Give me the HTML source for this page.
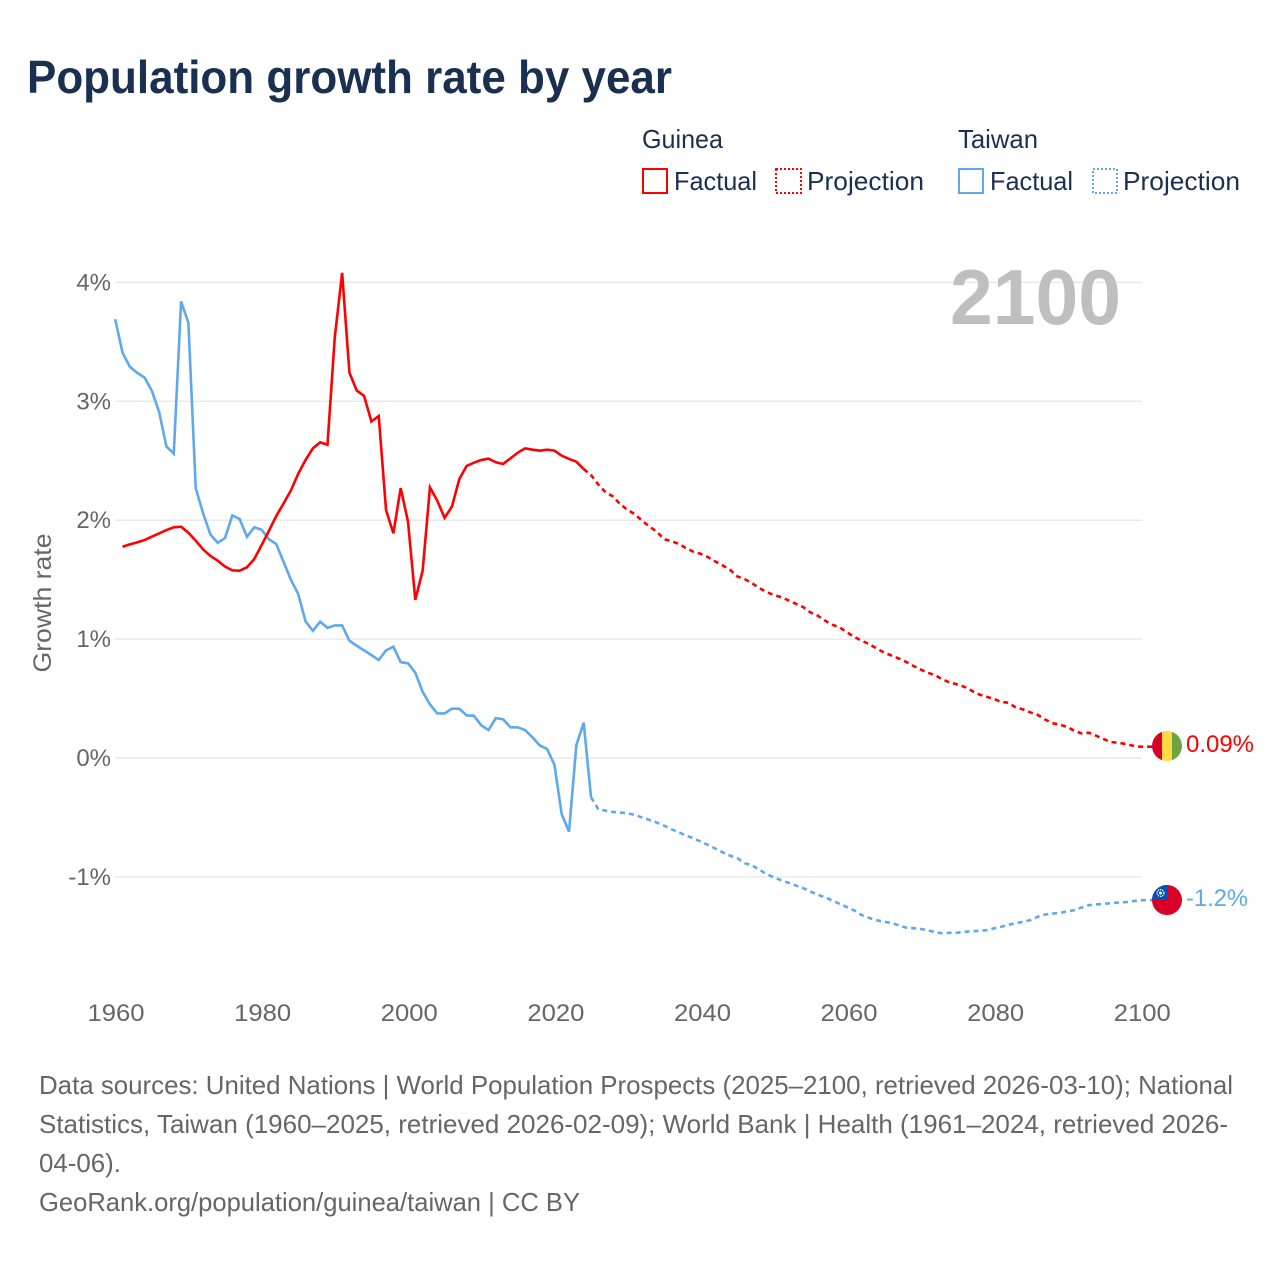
<!DOCTYPE html>
<html lang="en">
<head>
<meta charset="utf-8">
<title>Population growth rate by year</title>
<style>
html,body{margin:0;padding:0;background:#fff;}
svg{display:block;}
text{font-family:"Liberation Sans",sans-serif;}
</style>
</head>
<body>
<svg id="chart" xmlns="http://www.w3.org/2000/svg" width="1280" height="1280" viewBox="0 0 1280 1280">
  <defs>
    <clipPath id="clip-guinea"><circle cx="1167" cy="746" r="15"/></clipPath>
    <clipPath id="clip-taiwan"><circle cx="1167" cy="900" r="15"/></clipPath>
  </defs>
  <rect width="1280" height="1280" fill="#fff"/>
  <text x="27" y="93" font-size="46" font-weight="700" fill="#1a3050" textLength="645" lengthAdjust="spacingAndGlyphs">Population growth rate by year</text>

  <g font-size="26" fill="#1a3050">
    <text x="642" y="148" textLength="81" lengthAdjust="spacingAndGlyphs">Guinea</text>
    <text x="958" y="148" textLength="80" lengthAdjust="spacingAndGlyphs">Taiwan</text>
    <rect x="643" y="169" width="24" height="24" fill="none" stroke="#ff0000" stroke-width="2"/>
    <text x="674" y="190" textLength="83" lengthAdjust="spacingAndGlyphs">Factual</text>
    <rect x="776" y="169" width="25" height="24" fill="none" stroke="#ff0000" stroke-width="2" stroke-dasharray="2 2"/>
    <text x="807" y="190" textLength="117" lengthAdjust="spacingAndGlyphs">Projection</text>
    <rect x="959" y="169" width="24" height="24" fill="none" stroke="#5fa8ee" stroke-width="2"/>
    <text x="990" y="190" textLength="83" lengthAdjust="spacingAndGlyphs">Factual</text>
    <rect x="1093" y="169" width="24" height="24" fill="none" stroke="#5fa8ee" stroke-width="2" stroke-dasharray="2 2"/>
    <text x="1123" y="190" textLength="117" lengthAdjust="spacingAndGlyphs">Projection</text>
  </g>

  <g id="grid"></g>
  <g id="y-ticks"></g>
  <g id="x-ticks"></g>
  <text transform="translate(51,603) rotate(-90)" text-anchor="middle" font-size="25" fill="#666" textLength="139" lengthAdjust="spacingAndGlyphs">Growth rate</text>
  <text x="1121" y="324" text-anchor="end" font-size="78" font-weight="700" fill="#bfbfbf" textLength="171" lengthAdjust="spacingAndGlyphs">2100</text>
  <g id="series"></g>

  <g clip-path="url(#clip-guinea)">
    <rect x="1152" y="731" width="10" height="30" fill="#d80027"/>
    <rect x="1162" y="731" width="10" height="30" fill="#ffda44"/>
    <rect x="1172" y="731" width="10" height="30" fill="#6da544"/>
  </g>
  <g clip-path="url(#clip-taiwan)">
    <rect x="1152" y="885" width="30" height="30" fill="#d80027"/>
    <rect x="1152" y="885" width="15" height="15" fill="#0052b4"/>
    <circle cx="1160.5" cy="893" r="3.4" fill="none" stroke="#fff" stroke-width="1.2" stroke-dasharray="1.4 0.8"/>
    <circle cx="1160.5" cy="893" r="1.5" fill="#fff"/>
  </g>
  <text id="label-guinea" x="1186" y="752" font-size="24" fill="#ff0000" textLength="68" lengthAdjust="spacingAndGlyphs"></text>
  <text id="label-taiwan" x="1186" y="906" font-size="24" fill="#5fa8ee" textLength="62" lengthAdjust="spacingAndGlyphs"></text>

  <g font-size="26" fill="#666">
    <text x="39" y="1094" textLength="1194" lengthAdjust="spacingAndGlyphs">Data sources: United Nations | World Population Prospects (2025–2100, retrieved 2026-03-10); National</text>
    <text x="39" y="1133" textLength="1189" lengthAdjust="spacingAndGlyphs">Statistics, Taiwan (1960–2025, retrieved 2026-02-09); World Bank | Health (1961–2024, retrieved 2026-</text>
    <text x="39" y="1172" textLength="82" lengthAdjust="spacingAndGlyphs">04-06).</text>
    <text x="39" y="1211" textLength="541" lengthAdjust="spacingAndGlyphs">GeoRank.org/population/guinea/taiwan | CC BY</text>
  </g>
</svg>
<script>
const yTicks = [4, 3, 2, 1, 0, -1];
const xTicks = [1960, 1980, 2000, 2020, 2040, 2060, 2080, 2100];
const guineaFactualStart = 1961;
const guineaFactual = [1.777,1.797,1.814,1.833,1.861,1.889,1.917,1.940,1.945,1.895,1.828,1.755,1.700,1.660,1.610,1.578,1.575,1.604,1.674,1.790,
  1.910,2.035,2.140,2.250,2.390,2.506,2.604,2.655,2.635,3.540,4.080,3.240,3.090,3.045,2.830,2.876,2.086,1.890,2.270,1.988,
  1.330,1.575,2.276,2.164,2.020,2.114,2.344,2.456,2.484,2.506,2.518,2.487,2.473,2.520,2.568,2.604,2.593,2.585,2.593,2.585,
  2.543,2.515,2.492,2.430];
const guineaProjectionStart = 2024;
const guineaProjection = [2.430,2.380,2.300,2.235,2.200,2.134,2.087,2.050,1.994,1.947,1.902,1.840,1.824,1.800,1.765,1.734,1.717,1.689,1.653,1.619,1.583,
  1.527,1.504,1.470,1.429,1.395,1.370,1.353,1.325,1.297,1.269,1.224,1.196,1.154,1.120,1.098,1.056,1.017,0.986,0.958,0.922,
  0.888,0.863,0.838,0.810,0.776,0.745,0.717,0.697,0.661,0.636,0.619,0.599,0.566,0.535,0.515,0.499,0.471,0.465,0.426,0.409,
  0.384,0.364,0.325,0.294,0.280,0.263,0.230,0.207,0.213,0.188,0.160,0.134,0.129,0.118,0.104,0.095];
const taiwanFactualStart = 1960;
const taiwanFactual = [3.69,3.41,3.29,3.24,3.20,3.09,2.91,2.62,2.56,3.84,3.66,2.27,2.06,1.88,1.81,1.85,2.04,2.01,1.86,1.94,
  1.92,1.84,1.80,1.65,1.50,1.38,1.15,1.07,1.146,1.095,1.115,1.115,0.986,0.944,0.905,0.866,0.824,0.905,0.936,0.807,
  0.796,0.717,0.557,0.451,0.375,0.375,0.415,0.415,0.359,0.356,0.275,0.235,0.336,0.325,0.258,0.258,0.235,0.174,0.106,0.076,
  -0.056,-0.473,-0.619,0.109,0.297,-0.33];
const taiwanProjectionStart = 2025;
const taiwanProjection = [-0.33,-0.43,-0.443,-0.454,-0.459,-0.465,-0.479,-0.501,-0.521,-0.543,-0.569,-0.60,-0.625,-0.653,-0.675,-0.703,
  -0.731,-0.762,-0.793,-0.821,-0.843,-0.885,-0.902,-0.941,-0.975,-1.006,-1.028,-1.05,-1.073,-1.095,-1.123,-1.151,-1.171,-1.20,-1.227,-1.255,
  -1.283,-1.322,-1.345,-1.364,-1.378,-1.387,-1.406,-1.426,-1.431,-1.437,-1.448,-1.465,-1.473,-1.47,-1.47,-1.462,-1.457,-1.454,-1.448,-1.434,
  -1.42,-1.403,-1.389,-1.378,-1.364,-1.336,-1.317,-1.308,-1.303,-1.291,-1.28,-1.258,-1.238,-1.232,-1.227,-1.221,-1.216,-1.213,-1.204,-1.196];
const guineaEndLabel = "0.09%";
const taiwanEndLabel = "-1.2%";

const NS = "http://www.w3.org/2000/svg";
function xScale(year){ return 115.2 + (year - 1960) * 7.32; }
function yScale(v){ return 758 - v * 118.9; }
function make(tag, attrs, parent){
  const el = document.createElementNS(NS, tag);
  for (const k in attrs) el.setAttribute(k, attrs[k]);
  parent.appendChild(el);
  return el;
}
function pathFor(values, startYear, toFlag){
  const pts = values.map((v, i) => xScale(startYear + i).toFixed(2) + "," + yScale(v).toFixed(2));
  if (toFlag) {
    const last = values[values.length - 1];
    pts.push((xScale(startYear + values.length - 1) + 26).toFixed(2) + "," + yScale(last).toFixed(2));
  }
  return "M" + pts.join("L");
}
const gridG = document.getElementById("grid");


const yG = document.getElementById("y-ticks");


const xG = document.getElementById("x-ticks");


const seriesG = document.getElementById("series");



yTicks.forEach(function(t){
  const line = make("line", {x1:115, x2:1142, y1:yScale(t), y2:yScale(t), stroke:"#e9e9e9", "stroke-width":1.5}, gridG);
  
  
  const label = make("text", {x:111, y:yScale(t)+8, "text-anchor":"end", "font-size":24, fill:"#666"}, yG);
  
  
  label.textContent = t + "%";
});
xTicks.forEach(function(t){
  const label = make("text", {x:xScale(t)+0.8+(t-1960)*0.0107, y:1021, "text-anchor":"middle", "font-size":24, fill:"#666", textLength:57, lengthAdjust:"spacingAndGlyphs"}, xG);
  
  
  label.textContent = t;
});

const taiwanFactualLine = make("path", {d:pathFor(taiwanFactual, taiwanFactualStart, false), fill:"none", stroke:"#5fa8ee", "stroke-width":2.6}, seriesG);


const taiwanProjectionLine = make("path", {d:pathFor(taiwanProjection, taiwanProjectionStart, true), fill:"none", stroke:"#5fa8ee", "stroke-width":2.6, "stroke-dasharray":"5 4"}, seriesG);


const guineaFactualLine = make("path", {d:pathFor(guineaFactual, guineaFactualStart, false), fill:"none", stroke:"#ff0000", "stroke-width":2.6}, seriesG);


const guineaProjectionLine = make("path", {d:pathFor(guineaProjection, guineaProjectionStart, true), fill:"none", stroke:"#ff0000", "stroke-width":2.6, "stroke-dasharray":"5 4"}, seriesG);



document.getElementById("label-guinea").textContent = guineaEndLabel;
document.getElementById("label-taiwan").textContent = taiwanEndLabel;
</script>
</body>
</html>
